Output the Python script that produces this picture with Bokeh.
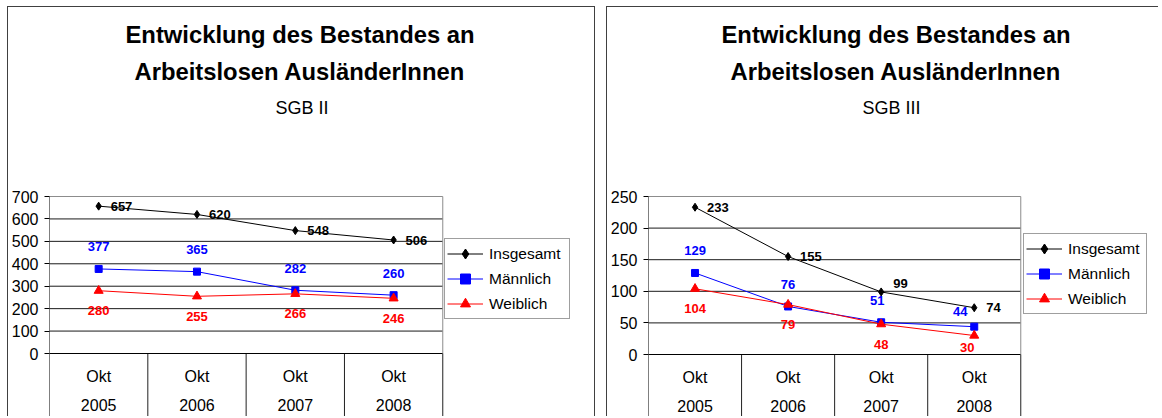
from bokeh.plotting import figure
from bokeh.models import Range1d, FixedTicker, Legend, LegendItem, Title, ColumnDataSource
from bokeh.layouts import row
from bokeh.embed import file_html
from bokeh.resources import INLINE
from bokeh.core.properties import value

# ---------------- data ----------------
title_line1 = "Entwicklung des Bestandes an"
title_line2 = "Arbeitslosen AusländerInnen"
subtitles = ["SGB II", "SGB III"]
months = ["Okt", "Okt", "Okt", "Okt"]
years = ["2005", "2006", "2007", "2008"]
series_names = ["Insgesamt", "Männlich", "Weiblich"]

sgb2_insgesamt = [657, 620, 548, 506]
sgb2_maennlich = [377, 365, 282, 260]
sgb2_weiblich = [280, 255, 266, 246]

sgb3_insgesamt = [233, 155, 99, 74]
sgb3_maennlich = [129, 76, 51, 44]
sgb3_weiblich = [104, 79, 48, 30]

sgb2_y_ticks = [0, 100, 200, 300, 400, 500, 600, 700]
sgb3_y_ticks = [0, 50, 100, 150, 200, 250]

FONT = "Liberation Sans"
COLORS = ["#000000", "#0000ff", "#ff0000"]
MARKERS = ["diamond", "square", "triangle"]
SIZES = [8, 7, 9]


def make_panel(subtitle, series, y_ticks, geo, tweaks, css):
    n = len(years)
    centers = [i + 0.5 for i in range(n)]
    bounds = list(range(n + 1))

    H, W = geo["h"], geo["w"]
    frame_top = geo["frame_top"]
    top_px, zero_px = geo["top_px"], geo["zero_px"]
    upp = (y_ticks[-1] - y_ticks[0]) / (zero_px - top_px)
    y_end = y_ticks[-1] + (top_px - frame_top) * upp
    y_start = y_ticks[0] - (H - zero_px) * upp
    frame_w = W - geo["mbl"]
    x_end = n * frame_w / geo["plot_w"]

    p = figure(width=W, height=H, title=None,
               x_range=Range1d(0, x_end), y_range=Range1d(y_start, y_end),
               output_backend="svg", toolbar_location=None,
               min_border_left=geo["mbl"], min_border_right=0,
               min_border_top=frame_top, min_border_bottom=0)
    p.background_fill_color = "white"
    p.border_fill_color = "white"
    p.outline_line_color = None
    p.styles = css

    for text, size, style, off, so in [
        (subtitle, "18px", "normal", geo["off_sub"], 12),
        (title_line2, "23.8px", "bold", geo["off2"], 10),
        (title_line1, "23.8px", "bold", geo["off1"], 6),
    ]:
        p.add_layout(Title(text=text, align="left", offset=off, standoff=so,
                           vertical_align="middle", text_font=FONT, text_font_size=size,
                           text_font_style=style, text_color="black"), "above")

    # y axis
    p.grid.visible = False
    p.yaxis.ticker = FixedTicker(ticks=y_ticks)
    p.yaxis.axis_line_color = None
    p.yaxis.major_tick_line_color = "black"
    p.yaxis.major_tick_out = 5
    p.yaxis.major_tick_in = 0
    p.yaxis.minor_tick_line_color = None
    p.yaxis.major_label_standoff = 6
    p.yaxis.major_label_text_font = FONT
    p.yaxis.major_label_text_font_size = "16px"
    p.yaxis.major_label_text_color = "black"

    # x axis drawn at zero; its labels form the category table
    p.xaxis.fixed_location = y_ticks[0]
    p.xaxis.bounds = (0, n)
    p.xaxis.ticker = FixedTicker(ticks=centers)
    p.xaxis.major_label_overrides = {c: f"{m}\n{y}" for c, m, y in zip(centers, months, years)}
    p.xaxis.axis_line_color = "black"
    p.xaxis.major_tick_line_color = None
    p.xaxis.minor_tick_line_color = None
    p.xaxis.major_tick_out = 0
    p.xaxis.major_tick_in = 0
    p.xaxis.major_label_standoff = 14
    p.xaxis.major_label_text_font = FONT
    p.xaxis.major_label_text_font_size = "16px"
    p.xaxis.major_label_text_color = "black"
    p.xaxis.major_label_text_line_height = 1.75

    # grid lines, plot-area border and table separators
    g = y_ticks[1:-1]
    p.segment(x0=[0] * len(g), y0=g, x1=[n] * len(g), y1=g, line_color="#1a1a1a", line_width=1)
    p.segment(x0=[0], y0=[y_ticks[-1]], x1=[n], y1=[y_ticks[-1]], line_color="#8c8c8c", line_width=1)
    p.segment(x0=[n], y0=[y_ticks[0]], x1=[n], y1=[y_ticks[-1]], line_color="#8c8c8c", line_width=1)
    p.segment(x0=[0], y0=[y_ticks[-1]], x1=[0], y1=[y_start], line_color="black", line_width=1)
    p.segment(x0=bounds[1:], y0=[y_ticks[0]] * n, x1=bounds[1:], y1=[y_start] * n,
              line_color="#202020", line_width=1)

    items = []
    for k, (name, vals) in enumerate(zip(series_names, series)):
        col = COLORS[k]
        lr = p.line(centers, vals, line_color=col, line_width=1)
        sr = p.scatter(centers, vals, marker=MARKERS[k], size=SIZES[k],
                       fill_color=col, line_color=col)
        items.append(LegendItem(label=name, renderers=[lr, sr]))
        dx, dy = tweaks[k]
        src = ColumnDataSource(dict(x=centers, y=vals, t=[str(v) for v in vals], dx=dx, dy=dy))
        p.text(x="x", y="y", text="t", x_offset="dx", y_offset="dy", source=src,
               text_font=value(FONT), text_font_size="13px", text_font_style="bold",
               text_color=col, text_align="left" if k == 0 else "center",
               text_baseline="middle")

    legend = Legend(items=items, location=geo["leg"],
                    margin=0, padding=2, spacing=0,
                    label_height=25, glyph_height=25, glyph_width=36, label_standoff=6,
                    label_width=geo["lw"], label_text_font=FONT, label_text_font_size="15.5px",
                    label_text_color="black", border_line_color="#404040",
                    border_line_width=1, background_fill_color="white",
                    background_fill_alpha=1)
    p.add_layout(legend, "center")
    return p


# left canvas starts at page (8, 7); right canvas at page (609, 7)
geo_left = dict(w=588, h=410, mbl=40, plot_w=394, frame_top=117, top_px=189, zero_px=346,
                off1=76, off2=85, off_sub=226, leg=(395, 98), lw=78)
geo_right = dict(w=552, h=410, mbl=40, plot_w=373, frame_top=117, top_px=189, zero_px=347,
                 off1=73, off2=82, off_sub=214, leg=(375, 103), lw=76)

tweaks_left = [([12, 12, 12, 12], [0, 0, 0, 0]),
               ([0, 0, 0, 0], [-22, -22, -22, -22]),
               ([0, 0, 0, 0], [20, 20, 20, 20])]
tweaks_right = [([12, 12, 12, 12], [0, 0, -8, 0]),
                ([0, 0, -4, -14], [-22, -22, -22, -15]),
                ([0, 0, 0, -7], [20, 20, 20, 12])]

css_left = {"border-top": "1px solid #404040", "border-left": "1px solid #404040",
            "border-right": "1px solid #404040"}
css_right = {"border-top": "1px solid #404040", "border-left": "1px solid #404040"}

p1 = make_panel(subtitles[0], [sgb2_insgesamt, sgb2_maennlich, sgb2_weiblich],
                sgb2_y_ticks, geo_left, tweaks_left, css_left)
p2 = make_panel(subtitles[1], [sgb3_insgesamt, sgb3_maennlich, sgb3_weiblich],
                sgb3_y_ticks, geo_right, tweaks_right, css_right)

layout = row(p1, p2, spacing=11, margin=(6, 0, 0, 7))
open("out.html", "w").write(file_html(layout, INLINE))
